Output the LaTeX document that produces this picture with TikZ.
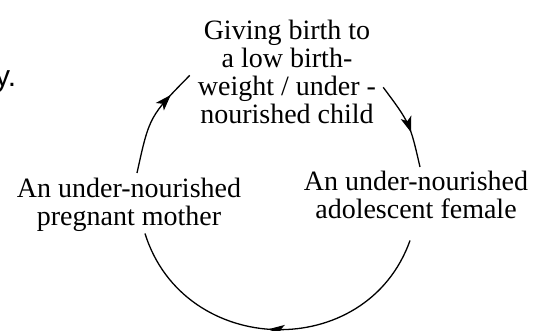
\documentclass[tikz,border=0pt]{standalone}
\usepackage{fontspec}
\setmainfont{Liberation Serif}
\newfontfamily\ysans{Liberation Sans}
\usetikzlibrary{arrows.meta,decorations.markings}
\begin{document}
\begin{tikzpicture}[x=1pt,y=1pt,
  lbl/.style={align=center,inner sep=0pt,font=\fontsize{28}{28}\selectfont},
  cyc/.style={line width=1.3pt},
  midarrow/.style={postaction={decorate},decoration={markings,mark=at position #1 with {\arrow{Stealth[length=16pt,width=11pt,inset=4pt]}}}}]
\useasboundingbox (0,0) rectangle (542,-331);
\node[lbl,anchor=north] (top) at (287,-19.6) {Giving birth to\\a low birth-\\weight / under -\\nourished child};
\node[lbl,anchor=north] (left) at (129,-177.6) {An under-nourished\\pregnant mother};
\node[lbl,anchor=north] (right) at (416,-170.6) {An under-nourished\\adolescent female};
\node[anchor=base east,inner sep=0pt,font=\ysans\fontsize{30}{30}\selectfont] (frag) at (16.5,-87) {y.};
\draw[cyc,midarrow=0.76] ([shift={(8,4.6)}]left.north) .. controls (149.4,-116.4) .. ([shift={(-8,-3.7)}]top.west);
\draw[cyc,midarrow=0.6] ([shift={(7,-15.7)}]top.east) .. controls (409.9,-123.1) .. ([shift={(4,3.6)}]right.north);
\draw[cyc,midarrow=0.52] ([shift={(-6,-21.8)}]right.south) .. controls (366.5,-363) and (183.8,-358) .. ([shift={(16,-2)}]left.south);
\end{tikzpicture}
\end{document}
